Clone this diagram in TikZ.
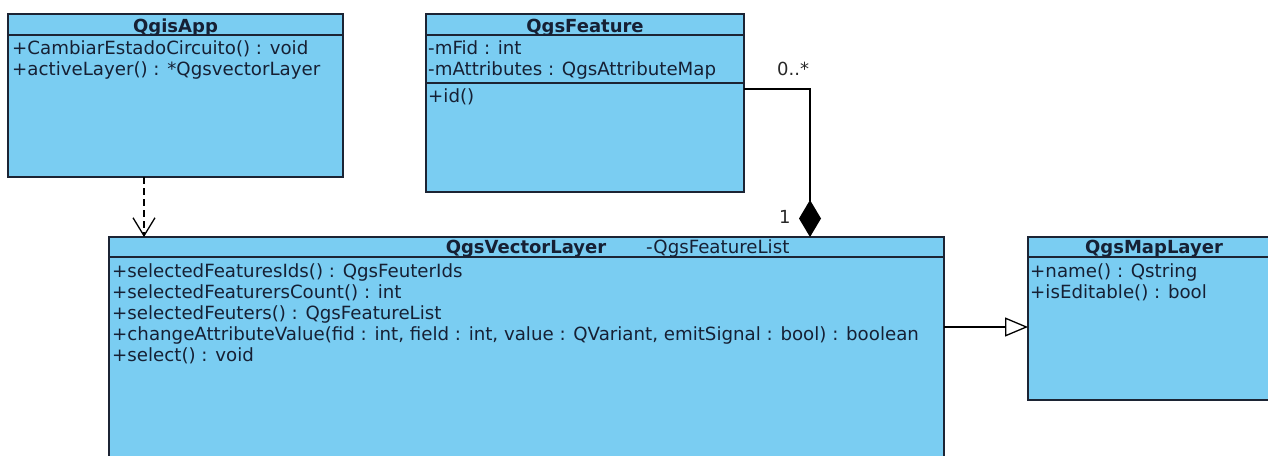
\documentclass[tikz,border=0pt]{standalone}
\usepackage{fontspec}
\setmainfont{DejaVu Sans}
\usetikzlibrary{arrows.meta}
\definecolor{classfill}{RGB}{122,205,242}
\definecolor{classline}{RGB}{28,36,52}
\definecolor{classtext}{RGB}{22,32,52}
\definecolor{labeltext}{RGB}{40,40,40}

\begin{document}
\begin{tikzpicture}[x=1pt,y=-1pt,
  classbox/.style={draw=classline, line width=1.6pt, fill=classfill, rectangle,
    anchor=north west, inner sep=0pt, outer sep=0pt},
  divider/.style={draw=classline, line width=1.4pt},
  member/.style={anchor=base west, inner sep=0pt, text=classtext,
    font=\fontsize{18.2}{21}\selectfont},
  classname/.style={anchor=base, inner sep=0pt, text=classtext,
    font=\fontsize{18}{21}\selectfont\bfseries},
  mult/.style={anchor=base west, inner sep=0pt, text=labeltext,
    font=\fontsize{18}{21}\selectfont},
  link/.style={draw=black, line width=1.3pt},
  usage/.style={link, dash pattern=on 7pt off 4pt, -{Straight Barb[length=18pt,width=22pt,line width=1.3pt]}},
  whole/.style={link, -{Diamond[length=37pt,width=22pt]}},
  inherit/.style={link, -{Triangle[open,length=23pt,width=19pt,fill=white]}}
]
\useasboundingbox (0,0) rectangle (1268,455);
\clip (0,0) rectangle (1268,455);

% ---- classes ----
\node[classbox, minimum width=335pt, minimum height=163pt] (app) at (8,14) {};
\node[classbox, minimum width=318pt, minimum height=178pt] (feature) at (426,14) {};
\node[classbox, minimum width=835pt, minimum height=250pt] (vector) at (109,237) {};
\node[classbox, minimum width=260pt, minimum height=163pt] (map) at (1028,237) {};

% compartment dividers
\draw[divider] ([yshift=-21pt]app.north west) -- ([yshift=-21pt]app.north east);
\draw[divider] ([yshift=-21pt]feature.north west) -- ([yshift=-21pt]feature.north east);
\draw[divider] ([yshift=-69pt]feature.north west) -- ([yshift=-69pt]feature.north east);
\draw[divider] ([yshift=-20pt]vector.north west) -- ([yshift=-20pt]vector.north east);
\draw[divider] ([yshift=-20pt]map.north west) -- ([yshift=-20pt]map.north east);

% QgisApp
\node[classname] (appname) at (175.5,32) {QgisApp};
\node[member] (app1) at (12,54) {+CambiarEstadoCircuito() : void};
\node[member] (app2) at (12,75) {+activeLayer() : *QgsvectorLayer};

% QgsFeature
\node[classname] (featname) at (585,32) {QgsFeature};
\node[member] (feat1) at (428,54) {-mFid : int};
\node[member] (feat2) at (428,75) {-mAttributes : QgsAttributeMap};
\node[member] (feat3) at (428,102) {+id()};

% QgsVectorLayer
\node[classname] (vecname) at (526,253) {QgsVectorLayer};
\node[member] (vecattr) at (646,253) {-QgsFeatureList};
\node[member] (vec1) at (112,277) {+selectedFeaturesIds() : QgsFeuterIds};
\node[member] (vec2) at (112,298) {+selectedFeaturersCount() : int};
\node[member] (vec3) at (112,319) {+selectedFeuters() : QgsFeatureList};
\node[member] (vec4) at (112,340) {+changeAttributeValue(fid : int, field : int, value : QVariant, emitSignal : bool) : boolean};
\node[member] (vec5) at (112,361) {+select() : void};

% QgsMapLayer
\node[classname] (mapname) at (1154,253) {QgsMapLayer};
\node[member] (map1) at (1030,277) {+name() : Qstring};
\node[member] (map2) at (1030,298) {+isEditable() : bool};

% ---- relations ----
\coordinate (depOut) at ([xshift=136pt]app.south west);
\draw[usage] (depOut) -- (depOut |- vector.north);

\coordinate (featOut) at ([yshift=-75pt]feature.north east);
\coordinate (compIn) at ([xshift=701pt]vector.north west);
\draw[whole] (featOut) -| (compIn);
\node[mult] (manyEnd) at (777,75) {0..*};
\node[mult] (oneEnd) at (779,223) {1};

\coordinate (genOut) at ([yshift=-90pt]vector.north east);
\draw[inherit] (genOut) -- (genOut -| map.west);
\end{tikzpicture}
\end{document}
